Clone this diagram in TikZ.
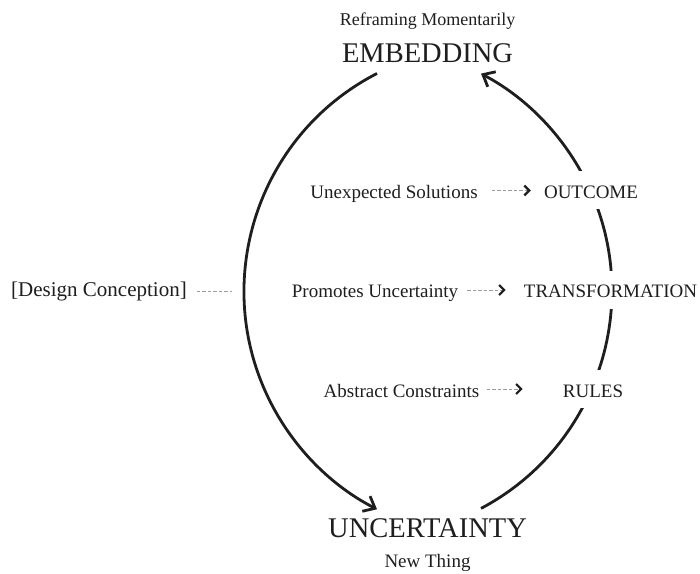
\documentclass[tikz,border=0pt]{standalone}
\usepackage{fontspec}
\setmainfont{Liberation Serif}
\usetikzlibrary{arrows.meta,positioning,backgrounds}
\definecolor{ink}{HTML}{1E1E1E}
\definecolor{hair}{HTML}{9C9C9C}
\tikzset{
  big/.style={font=\fontsize{28.5}{30}\selectfont,text=ink,inner sep=0pt,anchor=base},
  lab/.style={font=\fontsize{19}{21}\selectfont,text=ink,inner xsep=2pt,inner ysep=0pt,text height=16pt,text depth=0pt},
  stage/.style={lab,fill=white,minimum height=38pt},
  cyc/.style={draw=ink,line width=2.8pt,-{Straight Barb[length=10pt,width=17pt]}},
  hintline/.style={draw=hair,line width=0.8pt,dash pattern=on 3.5pt off 2pt},
  hint/.style={hintline,-{Straight Barb[length=5pt,width=10pt,line width=2.2pt,color=ink]}},
}

\begin{document}
\begin{tikzpicture}[x=1pt,y=1pt]
\useasboundingbox (0,0) rectangle (700,573);
% the two poles
\node[big] (emb) at (427.5,510) {EMBEDDING};
\node[big] (unc) at (427.5,36) {UNCERTAINTY};
\node[lab,font=\fontsize{18}{20}\selectfont,above=18.5pt of emb] (reframe) {Reframing Momentarily};
\node[lab,below=14pt of unc] (newthing) {New Thing};
% stages on the way back up
\node[stage] (outcome) at (591,382.5) {OUTCOME};
\node[stage] (trans) at (610.5,283) {TRANSFORMATION};
\node[stage] (rules) at (593,184) {RULES};
% what feeds each stage
\node[lab] (unexp) at (394,382.5) {Unexpected Solutions};
\node[lab] (promo) at (375,283) {Promotes Uncertainty};
\node[lab] (abstr) at (401.5,184) {Abstract Constraints};
\node[lab,font=\fontsize{21}{23}\selectfont,text height=11pt] (design) at (99,281.5) {[Design Conception]};
\coordinate (rim) at (244,281.5);

\draw[hint,shorten <=12pt,shorten >=11pt] (unexp) -- (outcome);
\draw[hint,shorten <=7pt,shorten >=16pt] (promo) -- (trans);
\draw[hint,shorten <=5pt,shorten >=38pt] (abstr) -- (rules);
\draw[hintline,shorten <=8pt,shorten >=12pt] (design) -- (rim);

% the cycle itself, behind the stage labels
\begin{scope}[on background layer]
\draw[cyc] (emb.south) ++(-50.5,-10) arc[start angle=117.2,end angle=242.8,radius=245];
\draw[cyc] (unc.north) ++(53.5,9.5) arc[start angle=-62.1,end angle=62.1,radius=246];
\end{scope}
\end{tikzpicture}
\end{document}
